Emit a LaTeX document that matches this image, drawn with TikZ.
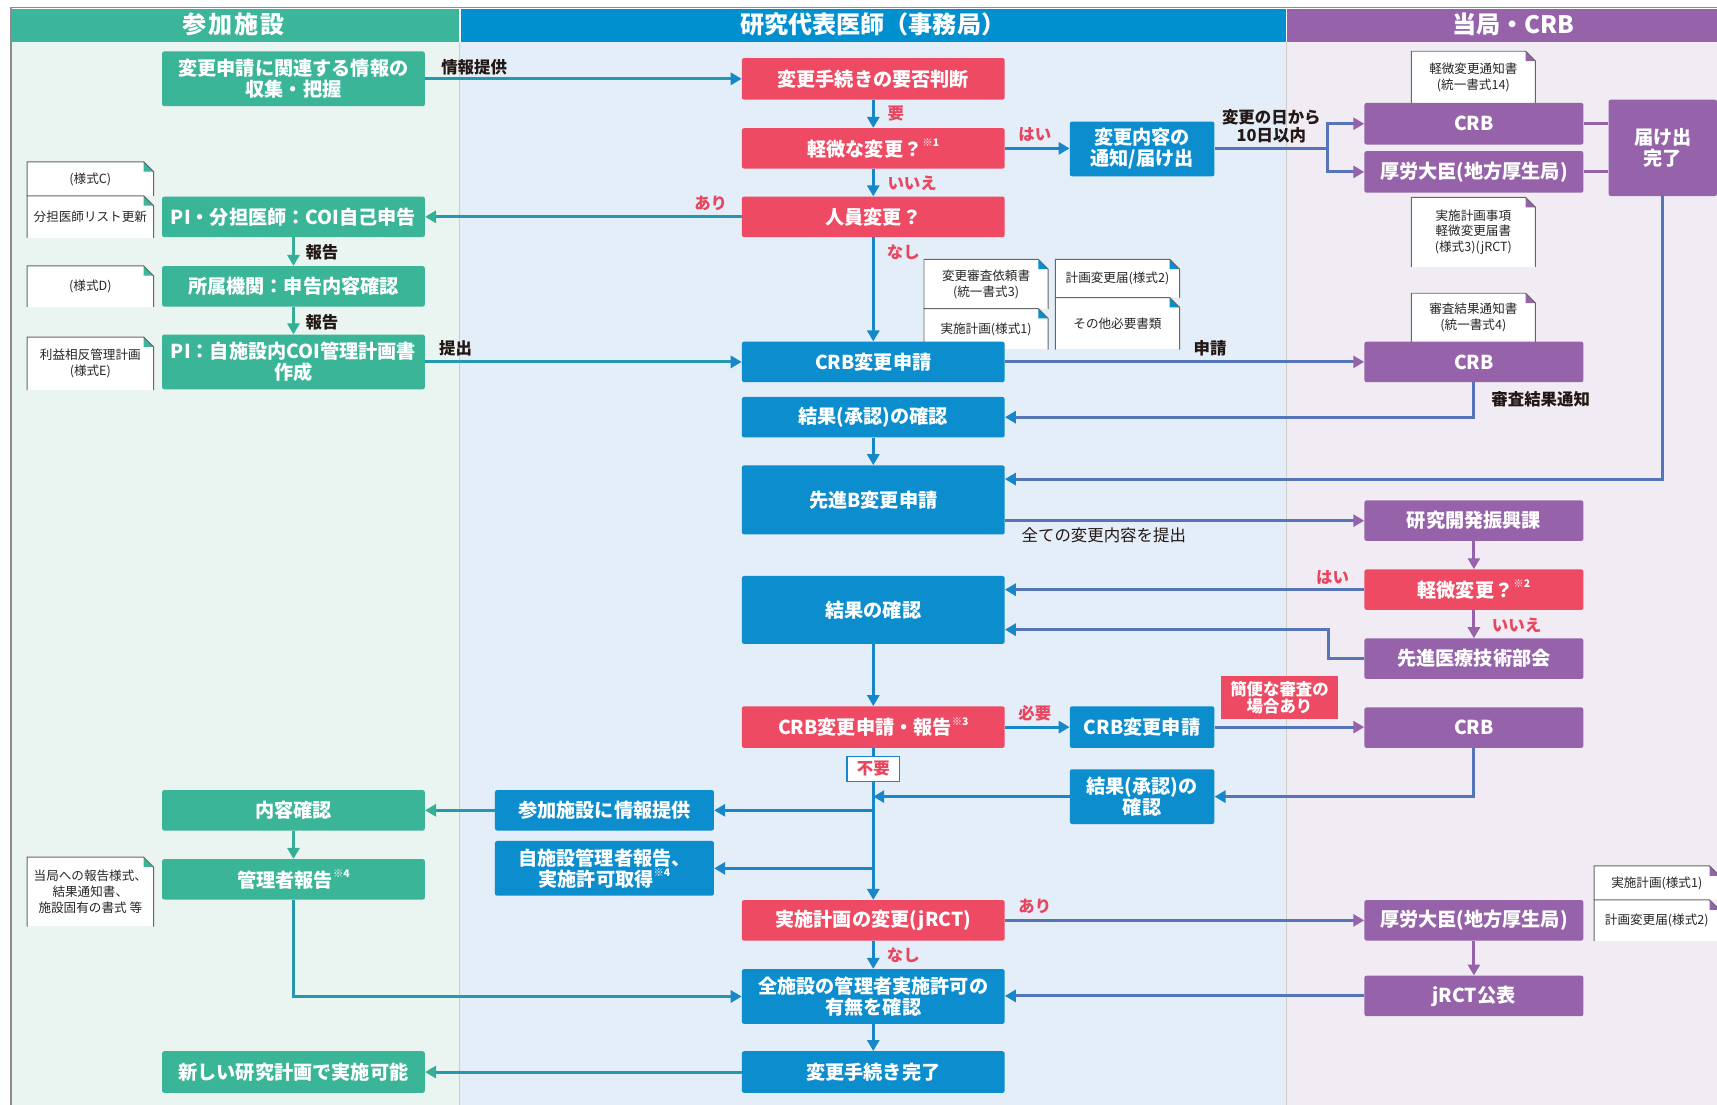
\documentclass[tikz,border=0pt]{standalone}
\usepackage{fontspec}
\setmainfont{Noto Sans CJK JP}
\usetikzlibrary{arrows.meta}

\definecolor{hdG}{HTML}{3BB69A}
\definecolor{hdB}{HTML}{0090D0}
\definecolor{hdP}{HTML}{9663AB}
\definecolor{bgG}{HTML}{EAF4F1}
\definecolor{bgB}{HTML}{E4EEF8}
\definecolor{bgP}{HTML}{F1ECF4}
\definecolor{boxG}{HTML}{3BB598}
\definecolor{boxB}{HTML}{0B8DCE}
\definecolor{boxR}{HTML}{EE4A63}
\definecolor{boxP}{HTML}{9663AB}
\definecolor{lnG}{HTML}{33AF95}
\definecolor{lnB}{HTML}{1687C8}
\definecolor{lnP}{HTML}{9663AB}
\definecolor{redtxt}{HTML}{E8455F}
\definecolor{darktxt}{HTML}{231815}
\colorlet{lnGB}{lnG!45!lnB}
\colorlet{lnBP}{lnB!50!lnP}

\newcommand\boxfont{\fontsize{17.5}{19}\selectfont\bfseries}
\newcommand\hdfont{\fontsize{22}{24}\selectfont\bfseries}
\newcommand\labfont{\fontsize{15}{16.5}\selectfont\bfseries}
\newcommand\notefont{\fontsize{11.5}{14.5}\selectfont}
\newcommand\kome[1]{\raisebox{0.5em}{\fontsize{9.5}{9.5}\selectfont\bfseries ※#1}}

\begin{document}
\begin{tikzpicture}[
    x=1pt, y=-1pt,
    greenbox/.style={rectangle, rounded corners=2pt, fill=boxG, text=white, font=\boxfont,
        align=center, inner sep=0pt, minimum width=240pt, minimum height=37pt},
    bluebox/.style={greenbox, fill=boxB},
    redbox/.style={greenbox, fill=boxR},
    purplebox/.style={greenbox, fill=boxP, minimum width=200pt},
    note/.style={fill=white, text=black!85, font=\notefont, align=center,
        inner sep=0pt, minimum width=115pt},
    notebd/.style={draw=black!60, line width=0.9pt},
    lab/.style={text=darktxt, font=\labfont, inner sep=0pt, align=center},
    redlab/.style={text=redtxt, font=\labfont, inner sep=0pt},
    arr/.style 2 args={draw=#1, line width=2.7pt, -{Triangle[length=10pt,width=11pt,color=#2]}},
    ln/.style={draw=#1, line width=2.7pt}
]
\useasboundingbox (0,0) rectangle (1568,1009);

% lanes and headers
\fill[bgG] (10,38) rectangle (420,1009);
\fill[bgB] (420,38) rectangle (1175,1009);
\fill[bgP] (1175,38) rectangle (1568,1009);
\fill[hdG] (10,8) rectangle (420,38);
\fill[hdB] (420,8) rectangle (1175,38);
\fill[hdP] (1175,8) rectangle (1568,38);
\draw[black!20, line width=0.8pt] (420,38) -- (420,1009) (1175,38) -- (1175,1009);
\draw[white, line width=1.2pt] (420,8) -- (420,38) (1175,8) -- (1175,38);
\draw[black!45, line width=1.2pt] (10,1009) -- (10,7) -- (1568,7);
\node[font=\hdfont, text=white] (hdSite) at (213,22) {\addfontfeature{LetterSpace=8}参加施設};
\node[font=\hdfont, text=white] (hdPI) at (797,22) {研究代表医師（事務局）};
\node[font=\hdfont, text=white] (hdCRB) at (1382,22) {当局・CRB};

% document notes
\node[note, minimum height=31pt] (nC) at (82.5,163.5) {(様式C)};
\node[note, minimum height=38pt] (nL) at (82.5,198) {分担医師リスト更新};
\node[note, minimum height=37pt] (nD) at (82.5,261.5) {(様式D)};
\node[note, minimum height=48pt] (nE) at (82.5,332) {利益相反管理計画\\(様式E)};
\node[note, minimum height=63pt] (nRep) at (82.5,814.5) {当局への報告様式、\\結果通知書、\\施設固有の書式 等};
\node[note, minimum width=113pt, minimum height=45pt] (nReq) at (900.5,259.5) {変更審査依頼書\\(統一書式3)};
\node[note, minimum width=113pt, minimum height=37pt] (nPlan) at (900.5,300.5) {実施計画(様式1)};
\node[note, minimum width=113pt, minimum height=35pt] (nForm2) at (1020.5,254.5) {計画変更届(様式2)};
\node[note, minimum width=113pt, minimum height=47pt] (nOther) at (1020.5,295.5) {その他必要書類};
\node[note, minimum width=113pt, minimum height=47pt] (nMinor) at (1345.5,70.5) {軽微変更通知書\\(統一書式14)};
\node[note, minimum width=113pt, minimum height=63pt] (nJrct) at (1345.5,212) {実施計画事項\\軽微変更届書\\(様式3)(jRCT)};
\node[note, minimum width=113pt, minimum height=44pt] (nRes) at (1345.5,290) {審査結果通知書\\(統一書式4)};
\node[note, minimum width=114pt, minimum height=31pt] (nP1) at (1513,806.5) {実施計画(様式1)};
\node[note, minimum width=114pt, minimum height=37pt] (nP2) at (1513,840.5) {計画変更届(様式2)};
\foreach \n/\c/\bg in {nC/hdG/bgG, nL/hdG/bgG, nD/hdG/bgG, nE/hdG/bgG, nRep/hdG/bgG,
    nReq/hdB/bgB, nPlan/hdB/bgB, nForm2/hdB/bgB, nOther/hdB/bgB,
    nMinor/hdP/bgP, nJrct/hdP/bgP, nRes/hdP/bgP, nP1/hdP/bgP, nP2/hdP/bgP} {
  \fill[\bg] ([xshift=-9pt]\n.north east) -- (\n.north east) -- ([yshift=-9pt]\n.north east) -- cycle;
  \fill[\c] ([xshift=-9pt]\n.north east) -- ([xshift=-9pt,yshift=-9pt]\n.north east) -- ([yshift=-9pt]\n.north east) -- cycle;
  \draw[notebd] (\n.south west) -- (\n.north west) -- ([xshift=-9pt]\n.north east)
      -- ([yshift=-9pt]\n.north east) -- (\n.south east);
}

% participating sites
\node[greenbox, minimum height=50pt] (collect) at (268,72) {変更申請に関連する情報の\\収集・把握};
\node[greenbox] (coi) at (268,198) {PI・分担医師：COI自己申告};
\node[greenbox] (inst) at (268,261.5) {所属機関：申告内容確認};
\node[greenbox, minimum height=50pt] (plan) at (268,330.5) {PI：自施設内COI管理計画書\\作成};
\node[greenbox] (check) at (268,740) {内容確認};
\node[greenbox] (mgr) at (268,803) {管理者報告\kome{4}};
\node[greenbox, minimum height=38pt] (newplan) at (268,979) {新しい研究計画で実施可能};

% principal investigator
\node[redbox, minimum height=38pt] (need) at (797.5,72) {変更手続きの要否判断};
\node[redbox] (minor) at (797.5,135.5) {軽微な変更？\kome{1}};
\node[redbox] (staff) at (797.5,198) {人員変更？};
\node[bluebox, minimum width=132pt, minimum height=50pt] (notify) at (1043,136) {変更内容の\\通知/届け出};
\node[bluebox] (crbapp) at (797.5,330.5) {CRB変更申請};
\node[bluebox] (appr) at (797.5,381) {結果(承認)の確認};
\node[bluebox, minimum height=63pt] (senB) at (797.5,456.5) {先進B変更申請};
\node[bluebox, minimum height=62pt] (result) at (797.5,557) {結果の確認};
\node[redbox, minimum height=38pt] (crbrep) at (797.5,664) {CRB変更申請・報告\kome{3}};
\node[bluebox, minimum width=132pt, minimum height=38pt] (crbapp2) at (1043,664) {CRB変更申請};
\node[bluebox, minimum width=132pt, minimum height=50pt] (appr2) at (1043,727.5) {結果(承認)の\\確認};
\node[bluebox, minimum width=200pt] (inform) at (552,740) {参加施設に情報提供};
\node[bluebox, minimum width=200pt, minimum height=50pt] (selfrep) at (552,793) {自施設管理者報告、\\実施許可取得\kome{4}};
\node[redbox] (jrct) at (797.5,840.5) {実施計画の変更(jRCT)};
\node[bluebox, minimum height=50pt] (allsite) at (797.5,910) {全施設の管理者実施許可の\\有無を確認};
\node[bluebox, minimum height=38pt] (done) at (797.5,979) {変更手続き完了};

% authorities and CRB
\node[purplebox, minimum height=38pt] (crb1) at (1346,113) {CRB};
\node[purplebox, minimum height=38pt] (mhlw1) at (1346,157) {厚労大臣(地方厚生局)};
\node[purplebox, minimum width=99pt, minimum height=88pt] (filed) at (1518.5,135) {届け出\\完了};
\node[purplebox] (crb2) at (1346,330.5) {CRB};
\node[purplebox] (rdiv) at (1346,475.5) {研究開発振興課};
\node[redbox, minimum width=200pt] (minor2) at (1346,538.5) {軽微変更？\kome{2}};
\node[purplebox] (council) at (1346,601.5) {先進医療技術部会};
\node[purplebox] (crb3) at (1346,664.5) {CRB};
\node[purplebox] (mhlw2) at (1346,840.5) {厚労大臣(地方厚生局)};
\node[purplebox] (publish) at (1346,909.5) {jRCT公表};
\node[fill=boxR, text=white, font=\fontsize{15}{16}\selectfont\bfseries, align=center,
    inner sep=0pt, minimum width=107pt, minimum height=40pt] (simple) at (1168.5,637) {簡便な審査の\\場合あり};

% connectors
\draw[arr={lnGB}{lnB}] (collect) -- (need);
\draw[arr={lnB}{lnB}] (need) -- (minor);
\draw[arr={lnB}{lnB}] (minor.east) -- (notify.west |- minor.east);
\draw[arr={lnB}{lnB}] (minor) -- (staff);
\draw[arr={lnGB}{lnG}] (staff) -- (coi);
\draw[arr={lnB}{lnB}] (staff) -- (crbapp);
\draw[arr={lnG}{lnG}] (coi) -- (inst);
\draw[arr={lnG}{lnG}] (inst) -- (plan);
\draw[arr={lnGB}{lnB}] (plan) -- (crbapp);
\coordinate (fork) at (1212,136);
\draw[ln=lnBP] (notify.east) -- (fork);
\draw[arr={lnBP}{lnP}] (fork) |- (crb1.west);
\draw[arr={lnBP}{lnP}] (fork) |- (mhlw1.west);
\draw[ln=lnP] (crb1.east) -- (crb1.east -| filed.west);
\draw[ln=lnP] (mhlw1.east) -- (mhlw1.east -| filed.west);
\draw[arr={lnBP}{lnB}] (filed.south) |- ([yshift=19pt]senB.east);
\draw[arr={lnBP}{lnP}] (crbapp) -- (crb2);
\draw[arr={lnBP}{lnB}] (crb2.south) |- (appr.east);
\draw[arr={lnB}{lnB}] (appr) -- (senB);
\draw[arr={lnBP}{lnP}] (senB.east |- rdiv.west) -- (rdiv.west);
\draw[arr={lnP}{lnP}] (rdiv) -- (minor2);
\draw[arr={lnBP}{lnB}] (minor2.west) -- (result.east |- minor2.west);
\draw[arr={lnP}{lnP}] (minor2) -- (council);
\draw[arr={lnBP}{lnB}] (council.west) -- ++(-33,0) |- ([yshift=-18pt]result.east);
\draw[arr={lnB}{lnB}] (result) -- (crbrep);
\draw[arr={lnB}{lnB}] (crbrep) -- (crbapp2);
\draw[arr={lnBP}{lnP}] (crbapp2.east) -- (crb3.west |- crbapp2.east);
\draw[arr={lnBP}{lnB}] (crb3.south) |- (appr2.east);
\draw[arr={lnB}{lnB}] (crbrep) -- (jrct);
\draw[arr={lnB}{lnB}] (appr2.west) -- (appr2.west -| crbrep.south);
\draw[arr={lnB}{lnB}] (inform.east -| crbrep.south) -- (inform.east);
\draw[arr={lnB}{lnB}] (selfrep.east -| crbrep.south) -- (selfrep.east);
\draw[arr={lnGB}{lnG}] (inform) -- (check);
\draw[arr={lnG}{lnG}] (check) -- (mgr);
\draw[arr={lnGB}{lnB}] (mgr.south) |- (allsite.west);
\draw[arr={lnBP}{lnP}] (jrct) -- (mhlw2);
\draw[arr={lnB}{lnB}] (jrct) -- (allsite);
\draw[arr={lnP}{lnP}] (mhlw2) -- (publish);
\draw[arr={lnBP}{lnB}] (publish.west) -- (allsite.east |- publish.west);
\draw[arr={lnB}{lnB}] (allsite) -- (done);
\draw[arr={lnGB}{lnG}] (done) -- (newplan);
\node[fill=white, draw=lnB, line width=1pt, text=redtxt, font=\labfont, inner sep=0pt,
    minimum width=48pt, minimum height=23pt] (nogo) at (797.5,702) {不要};

% labels
\node[lab] (lInfo) at (433,61) {情報提供};
\node[lab] (lRep1) at (294,230) {報告};
\node[lab] (lRep2) at (294,294) {報告};
\node[lab] (lSub) at (416,318) {提出};
\node[lab] (lApp) at (1105,318) {申請};
\node[lab] (lDays) at (1161,115) {変更の日から\\10日以内};
\node[lab] (lRes) at (1407,365) {審査結果通知};
\node[lab, font=\fontsize{15}{16}\selectfont] (lAll) at (1008,489) {全ての変更内容を提出};
\node[redlab] (lNeed) at (818,104) {要};
\node[redlab] (lYes1) at (945,123) {はい};
\node[redlab] (lNo1) at (833,167) {いいえ};
\node[redlab] (lHas1) at (649,186) {あり};
\node[redlab] (lNone1) at (825,230) {なし};
\node[redlab] (lYes2) at (1217,527) {はい};
\node[redlab] (lNo2) at (1385,571) {いいえ};
\node[redlab] (lReq) at (945,651) {必要};
\node[redlab] (lHas2) at (945,828) {あり};
\node[redlab] (lNone2) at (825,872) {なし};
\end{tikzpicture}
\end{document}
